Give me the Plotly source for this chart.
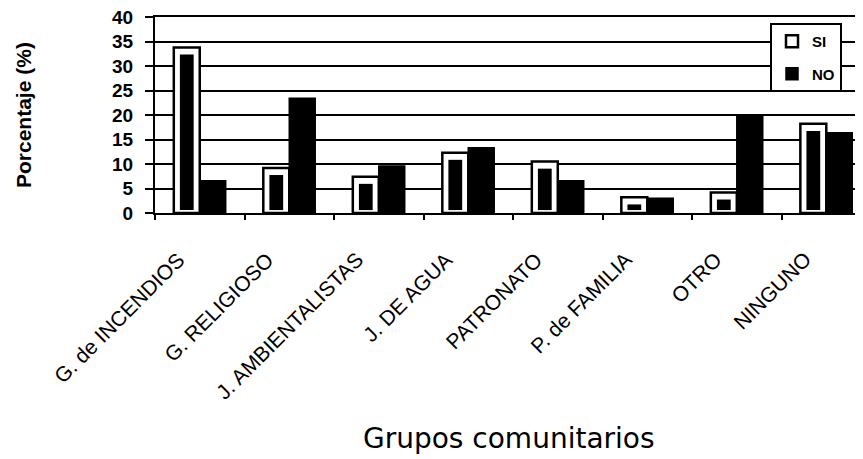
import plotly.graph_objects as go

categories = ["G. de INCENDIOS", "G. RELIGIOSO", "J. AMBIENTALISTAS", "J. DE AGUA",
              "PATRONATO", "P. de FAMILIA", "OTRO", "NINGUNO"]
si_values = [33.8, 9.2, 7.4, 12.3, 10.5, 3.2, 4.2, 18.2]
no_values = [6.6, 23.4, 9.6, 13.3, 6.6, 3.0, 19.9, 16.4]
y_ticks = [0, 5, 10, 15, 20, 25, 30, 35, 40]

BAR_W = 0.29
INNER_PAD_X = 0.068
INNER_TOP_PAD = 1.45
INNER_BASE = 0.6

fig = go.Figure()
fig.add_trace(go.Bar(
    name="SI", x=categories, y=si_values, width=BAR_W, offset=-BAR_W,
    marker=dict(color="white", line=dict(color="black", width=2.5)),
    legendgroup="si",
))
inner_h = [max(v - INNER_TOP_PAD - INNER_BASE, 0.4) for v in si_values]
fig.add_trace(go.Bar(
    name="SI_inner", x=categories, y=inner_h, base=[INNER_BASE] * len(categories),
    width=BAR_W - 2 * INNER_PAD_X, offset=-BAR_W + INNER_PAD_X,
    marker=dict(color="black", line=dict(width=0)), showlegend=False, hoverinfo="skip",
))
fig.add_trace(go.Bar(
    name="NO", x=categories, y=no_values, width=BAR_W, offset=0,
    marker=dict(color="black", line=dict(color="black", width=1.5)),
    legendgroup="no",
))

font_main = "Liberation Sans, Arial, sans-serif"
PAGE_OFFSET = 8  # default body margin of the html page
W, H = 863, 459
PLOT_LEFT, PLOT_TOP, PLOT_BOTTOM = 155, 17, 213
PLOT_H = PLOT_BOTTOM - PLOT_TOP
PLOT_W = W - PLOT_LEFT

annotations = [
    dict(text=c, x=c, xref="x", yref="paper",
         y=-(245 - PLOT_BOTTOM) / PLOT_H, xanchor="right", yanchor="top",
         xshift=-8, textangle=-45, showarrow=False,
         font=dict(family=font_main, size=21, color="black"))
    for c in categories
]
annotations += [
    dict(text="Grupos comunitarios", xref="paper", yref="paper",
         x=0.5, y=-(457 - PLOT_BOTTOM) / PLOT_H, xanchor="center", yanchor="bottom",
         showarrow=False, font=dict(family="DejaVu Sans", size=28, color="black")),
    dict(text="Porcentaje (%)", xref="paper", yref="paper",
         x=(23 - PLOT_LEFT) / PLOT_W, y=0.5, xanchor="center", yanchor="middle",
         textangle=-90, showarrow=False,
         font=dict(family=font_main, size=21, color="black", weight="bold")),
]

fig.update_layout(
    barmode="overlay",
    width=W - PAGE_OFFSET, height=H - PAGE_OFFSET,
    margin=dict(l=PLOT_LEFT - PAGE_OFFSET, r=0, t=PLOT_TOP - PAGE_OFFSET, b=H - PLOT_BOTTOM, pad=0),
    paper_bgcolor="white", plot_bgcolor="white",
    font=dict(family=font_main, color="black", size=18),
    showlegend=True,
    legend=dict(
        x=(770 - PLOT_LEFT) / PLOT_W, y=1 - (23 - PLOT_TOP) / PLOT_H,
        xanchor="left", yanchor="top",
        bgcolor="white", bordercolor="black", borderwidth=2,
        font=dict(family=font_main, size=15, color="black", weight="bold"),
        tracegroupgap=10, itemwidth=30,
    ),
    xaxis=dict(
        type="category", range=[-0.5, 7.41],
        showticklabels=False,
        showline=True, mirror=True, linecolor="black", linewidth=2,
        ticks="outside", tickson="boundaries", ticklen=5, tickcolor="black", tickwidth=1.5,
        showgrid=False, fixedrange=True,
    ),
    yaxis=dict(
        range=[0, 40], tickvals=y_ticks, ticklabeloverflow="allow",
        tickfont=dict(family=font_main, size=19, weight="bold"),
        showline=True, linecolor="black", linewidth=2,
        ticks="outside", ticklen=8, tickcolor="black", tickwidth=2,
        showgrid=True, gridcolor="black", gridwidth=2,
        zeroline=False, ticklabelstandoff=8,
    ),
    annotations=annotations,
)

fig.write_html("out.html")
